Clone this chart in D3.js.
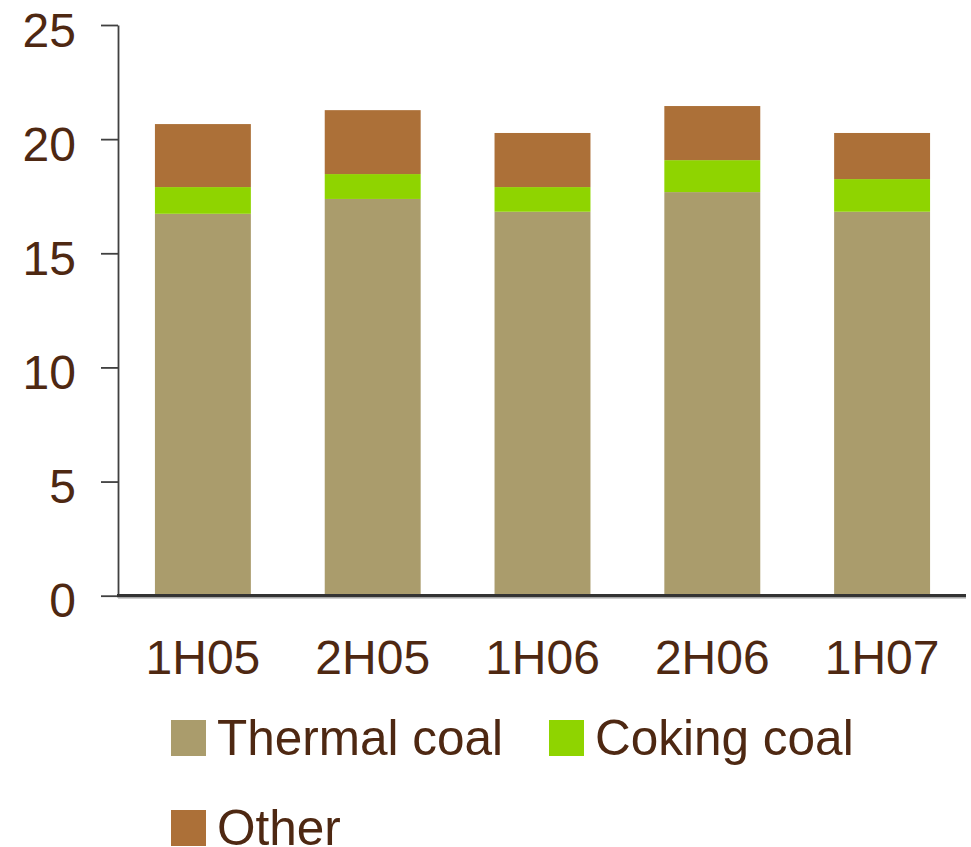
<!DOCTYPE html>
<html>
<head>
<meta charset="utf-8">
<script src="https://cdn.jsdelivr.net/npm/d3@7"></script>
<style>
  html, body { margin: 0; padding: 0; background: #ffffff; }
  svg { display: block; font-family: "Liberation Sans", Arial, sans-serif; }
</style>
</head>
<body>
<svg id="chart" width="971" height="847"></svg>
<script>
// Half-year periods on the x axis
const periods = ["1H05", "2H05", "1H06", "2H06", "1H07"];
// Stacked series values (bottom to top)
const thermalCoal = [16.73, 17.38, 16.82, 17.68, 16.82];
const cokingCoal  = [1.17, 1.09, 1.08, 1.40, 1.43];
const otherCoal   = [2.76, 2.80, 2.37, 2.37, 2.02];
const seriesNames = ["Thermal coal", "Coking coal", "Other"];
const yTicks = [0, 5, 10, 15, 20, 25];

const colors = ["#aa9c6c", "#8fd400", "#ac7038"];
const textColor = "#4e2812";

const svg = d3.select("#chart");

const rows = periods.map((p, i) => ({
  period: p,
  "Thermal coal": thermalCoal[i],
  "Coking coal": cokingCoal[i],
  "Other": otherCoal[i]
}));

const stacked = d3.stack().keys(seriesNames)(rows);

const x = d3.scaleBand()
  .domain(periods)
  .range([118, 967])
  .paddingInner(0.435)
  .paddingOuter(0.2175);

const y = d3.scaleLinear()
  .domain([0, 25])
  .range([595.7, 25]);

// Bars
svg.append("g")
  .selectAll("g")
  .data(stacked)
  .join("g")
    .attr("fill", (d, i) => colors[i])
  .selectAll("rect")
  .data(d => d)
  .join("rect")
    .attr("x", d => x(d.data.period))
    .attr("width", x.bandwidth())
    .attr("y", d => y(d[1]))
    .attr("height", d => y(d[0]) - y(d[1]));

// Y axis
const yAxis = svg.append("g")
  .attr("transform", "translate(118,0)")
  .call(d3.axisLeft(y).tickValues(yTicks).tickSize(17).tickPadding(25).tickSizeOuter(0));
yAxis.select(".domain").attr("stroke", "#404040").attr("stroke-width", 1.8);
yAxis.selectAll(".tick line").attr("stroke", "#404040").attr("stroke-width", 1.8);
yAxis.selectAll(".tick text")
  .attr("fill", textColor)
  .attr("font-size", 48)
  .attr("dy", "0.44em");

// X axis (baseline with soft shadow)
svg.append("line")
  .attr("x1", 118).attr("x2", 966)
  .attr("y1", y(0) + 2.2).attr("y2", y(0) + 2.2)
  .attr("stroke", "#cfcfcf").attr("stroke-width", 2);
const xAxis = svg.append("g")
  .attr("transform", `translate(0,${y(0)})`)
  .call(d3.axisBottom(x).tickSize(0).tickPadding(44).tickSizeOuter(0));
xAxis.select(".domain")
  .attr("d", "M117,0H966")
  .attr("stroke", "#333333").attr("stroke-width", 3.2);
xAxis.selectAll(".tick text")
  .attr("fill", textColor)
  .attr("font-size", 48)
  .attr("dy", "0.72em");

// Legend
const legendItems = [
  { name: seriesNames[0], color: colors[0], x: 171, y: 720 },
  { name: seriesNames[1], color: colors[1], x: 549, y: 720 },
  { name: seriesNames[2], color: colors[2], x: 171, y: 810 }
];
const legend = svg.append("g")
  .selectAll("g")
  .data(legendItems)
  .join("g")
    .attr("transform", d => `translate(${d.x},${d.y})`);
legend.append("rect")
  .attr("width", 35).attr("height", 36)
  .attr("fill", d => d.color);
legend.append("text")
  .attr("x", 46).attr("y", 35)
  .attr("fill", textColor)
  .attr("font-size", 49.5)
  .text(d => d.name);
</script>
</body>
</html>
